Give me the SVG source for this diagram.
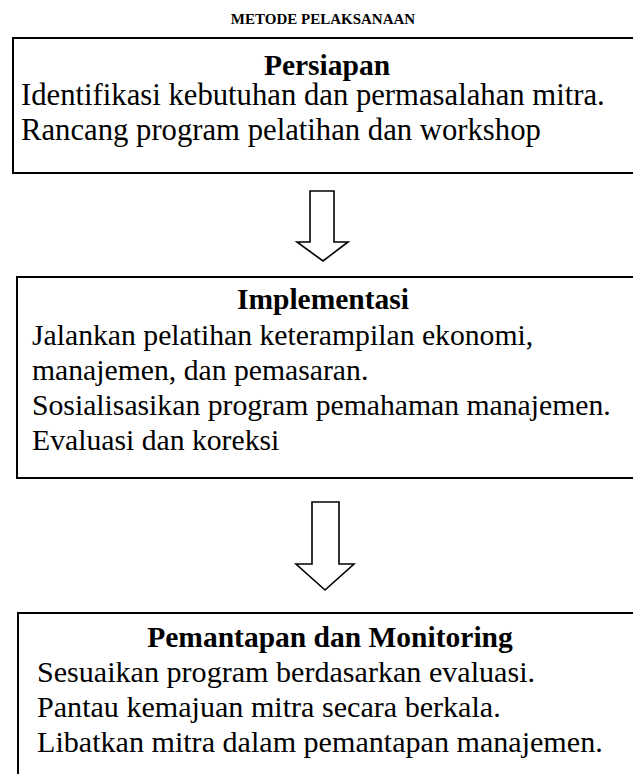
<svg xmlns="http://www.w3.org/2000/svg" width="633" height="774" viewBox="0 0 633 774">
<style>
.box{fill:#fff;stroke:#000;stroke-width:2}
.arr{fill:#fff;stroke:#000;stroke-width:1.6;stroke-linejoin:miter}
.t{font-family:"Liberation Serif","Times New Roman",serif;font-size:29.7px;fill:#000}
.t1{font-size:30.7px}
.t3{font-size:30.1px}
.h{font-family:"Liberation Serif","Times New Roman",serif;font-size:29.5px;font-weight:bold;fill:#000;text-anchor:middle}
.title{font-family:"Liberation Serif","Times New Roman",serif;font-size:15px;font-weight:bold;fill:#000;text-anchor:middle}
</style>
<rect width="633" height="774" fill="#fff"/>
<text class="title" x="323" y="24">METODE PELAKSANAAN</text>
<g id="persiapan">
<rect class="box" x="13" y="38" width="640" height="135"/>
<text class="h" x="327" y="75">Persiapan</text>
<text class="t t1" x="21" y="105">Identifikasi kebutuhan dan permasalahan mitra.</text>
<text class="t t1" x="21" y="140">Rancang program pelatihan dan workshop</text>
</g>
<g id="implementasi">
<rect class="box" x="17" y="277" width="640" height="201"/>
<text class="h" x="323" y="309">Implementasi</text>
<text class="t" x="32" y="345">Jalankan pelatihan keterampilan ekonomi,</text>
<text class="t" x="32" y="380">manajemen, dan pemasaran.</text>
<text class="t" x="32" y="415">Sosialisasikan program pemahaman manajemen.</text>
<text class="t" x="32" y="450">Evaluasi dan koreksi</text>
</g>
<g id="pemantapan">
<rect class="box" x="18" y="613" width="640" height="180"/>
<text class="h" x="330" y="647">Pemantapan dan Monitoring</text>
<text class="t t3" x="37" y="682">Sesuaikan program berdasarkan evaluasi.</text>
<text class="t t3" x="37" y="717">Pantau kemajuan mitra secara berkala.</text>
<text class="t t3" x="37" y="752">Libatkan mitra dalam pemantapan manajemen.</text>
</g>
<g id="connectors">
<path class="arr" d="M310,191 H334 V242 H348 L323,261 L297,242 H310 Z"/>
<path class="arr" d="M312,502 H339 V564 H354 L325,590 L296,564 H312 Z"/>
</g>
</svg>
